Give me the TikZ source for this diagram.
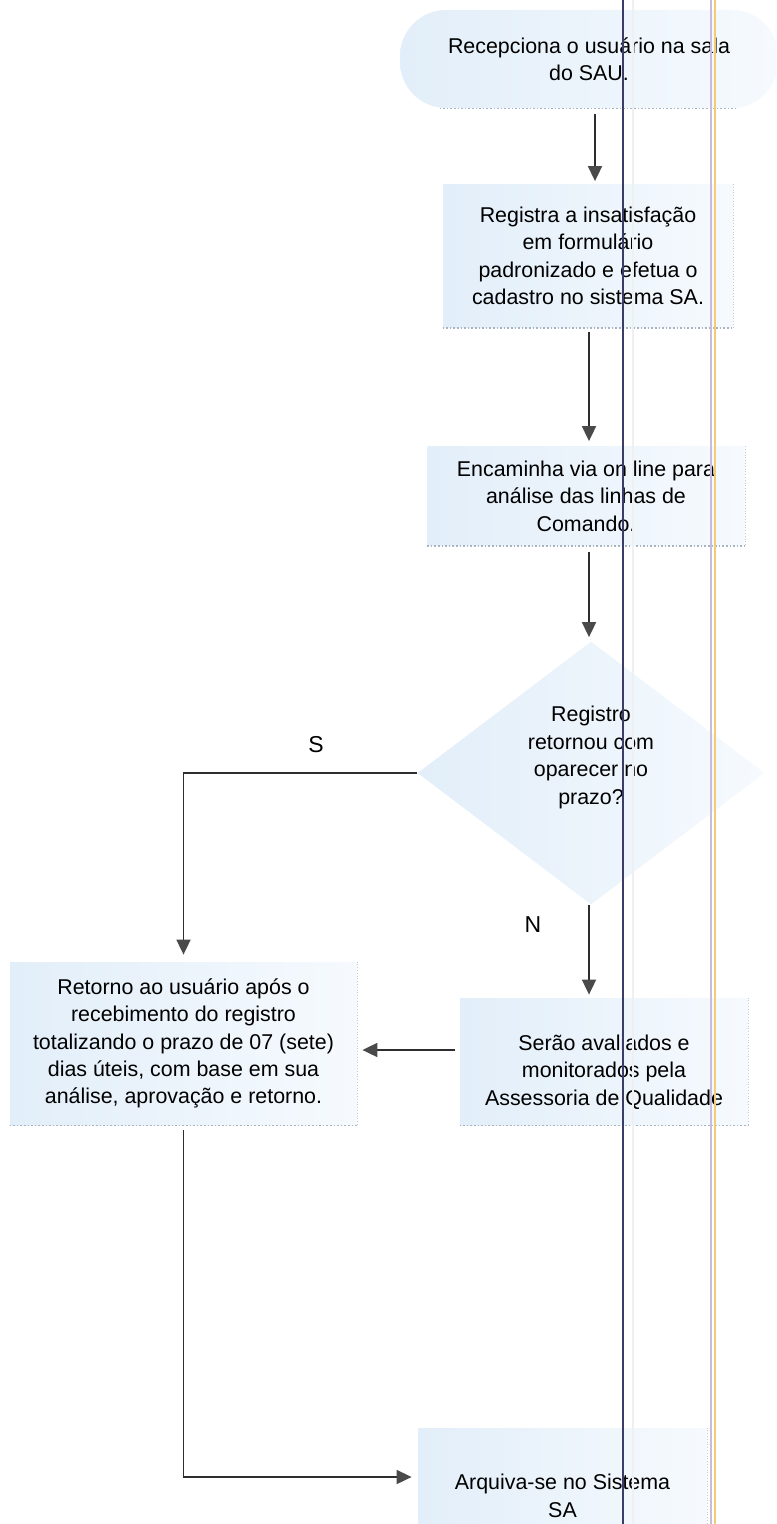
\documentclass[tikz,border=0pt]{standalone}
\usepackage{fontspec}
\setmainfont{Liberation Sans}
\usetikzlibrary{shapes.geometric,arrows.meta}
\definecolor{boxl}{HTML}{E2EEF9}
\definecolor{boxr}{HTML}{F6FAFE}
\definecolor{edgeg}{HTML}{A8B4C0}
\definecolor{linec}{HTML}{2E2E2E}
\definecolor{arrc}{HTML}{4A4A4A}
\definecolor{navy}{HTML}{3C3C68}
\definecolor{lav}{HTML}{C8BCD8}
\definecolor{yel}{HTML}{F2CC78}
\begin{document}
\begin{tikzpicture}[x=0.5pt,y=-0.5pt,
  font=\fontsize{10.7pt}{13.7pt}\selectfont,
  stepbox/.style={rectangle,left color=boxl,right color=boxr,draw=none,align=center,inner sep=0pt},
  conn/.style={draw=linec,line width=0.9pt},
  arr/.style={conn,-{Triangle[length=7.5pt,width=7pt,fill=arrc,color=arrc]}},
  lbl/.style={font=\fontsize{11.5pt}{13pt}\selectfont}]
\useasboundingbox (0,0) rectangle (776,1524);
\clip (0,0) rectangle (776,1524);
% nodes
\node[stepbox,rounded corners=23pt,minimum width=189pt,minimum height=49pt] (t1) at (589,59) {Recepciona o usuário na sala\\do SAU.};
\node[stepbox,minimum width=145pt,minimum height=71.5pt] (b2) at (588,256) {Registra a insatisfação\\em formulário\\padronizado e efetua o\\cadastro no sistema SA.};
\node[stepbox,minimum width=158.5pt,minimum height=49.5pt] (b3) at (586,496) {Encaminha via on line para\\análise das linhas de\\Comando.};
\node[diamond,left color=boxl,right color=boxr,draw=none,align=center,inner sep=0pt,minimum width=173.5pt,minimum height=131.5pt] (d1) at (591,773) {Registro\\retornou com\\oparecer no\\prazo?\\[4pt]};
\node[stepbox,minimum width=173.5pt,minimum height=81.5pt] (b5) at (183.5,1043.5) {Retorno ao usuário após o\\recebimento do registro\\totalizando o prazo de 07 (sete)\\dias úteis, com base em sua\\análise, aprovação e retorno.};
\node[stepbox,minimum width=144pt,minimum height=63.5pt] (b6) at (604,1061.5) {};
\node[align=center,inner sep=0pt] (b6t) at (604,1072) {Serão avaliados e\\monitorados pela\\Assessoria de Qualidade};
\node[stepbox,minimum width=144.5pt,minimum height=66pt] (b7) at (562.5,1494) {};
\node[align=center,inner sep=0pt] (b7t) at (562.5,1496) {Arquiva-se no Sistema\\SA};
% bottom shadow lines
\foreach \n in {b2,b3,b5,b6} {\draw[edgeg,densely dotted,line width=0.8pt] (\n.south west) -- (\n.south east);
  \draw[edgeg!70,densely dotted,line width=0.4pt] (\n.north east) -- (\n.south east);}
\draw[edgeg!70,densely dotted,line width=0.4pt] (b7.north east) -- (b7.south east);
\draw[edgeg,densely dotted,line width=0.8pt] ([xshift=20pt]t1.south west) -- ([xshift=-20pt]t1.south east);
% swimlane lines
\coordinate (ln1) at (623,0); \coordinate (ln1e) at (623,1524);
\coordinate (ln2) at (633,0); \coordinate (ln2e) at (633,1524);
\coordinate (ln3) at (711,0); \coordinate (ln3e) at (711,1524);
\coordinate (ln4) at (715,0); \coordinate (ln4e) at (715,1524);
\draw[navy,line width=1.2pt] (ln1) -- (ln1e);
\draw[gray!12,line width=0.6pt] (ln2) -- (ln2e);
\draw[lav,line width=0.7pt] (ln3) -- (ln3e);
\draw[yel,line width=0.7pt] (ln4) -- (ln4e);
% connectors
\coordinate (x1) at (595,0);
\coordinate (x2) at (589,0);
\draw[arr] ([yshift=-3pt]t1.south -| x1) -- ([yshift=1.5pt]b2.north -| x1);
\draw[arr] ([yshift=-2pt]b2.south -| x2) -- ([yshift=2.5pt]b3.north -| x2);
\draw[arr] ([yshift=-3pt]b3.south -| x2) -- ([yshift=2pt]d1.north -| x2);
\draw[arr] (d1.south -| x2) -- ([yshift=1.5pt]b6.north -| x2);
\draw[arr] (d1.west) -- (d1.west -| b5.north) -- ([yshift=3.5pt]b5.north);
\draw[arr] ([xshift=-2.5pt]b6.west |- 0,1050) -- ([xshift=2.5pt]b5.east |- 0,1050);
\draw[arr] ([yshift=-2.5pt]b5.south) -- (b5.south |- 0,1477) -- ([xshift=-3pt]b7.west |- 0,1477);
% labels
\node[lbl] (ls) at (316,745) {S};
\node[lbl] (ln) at (533,925) {N};
\end{tikzpicture}
\end{document}
